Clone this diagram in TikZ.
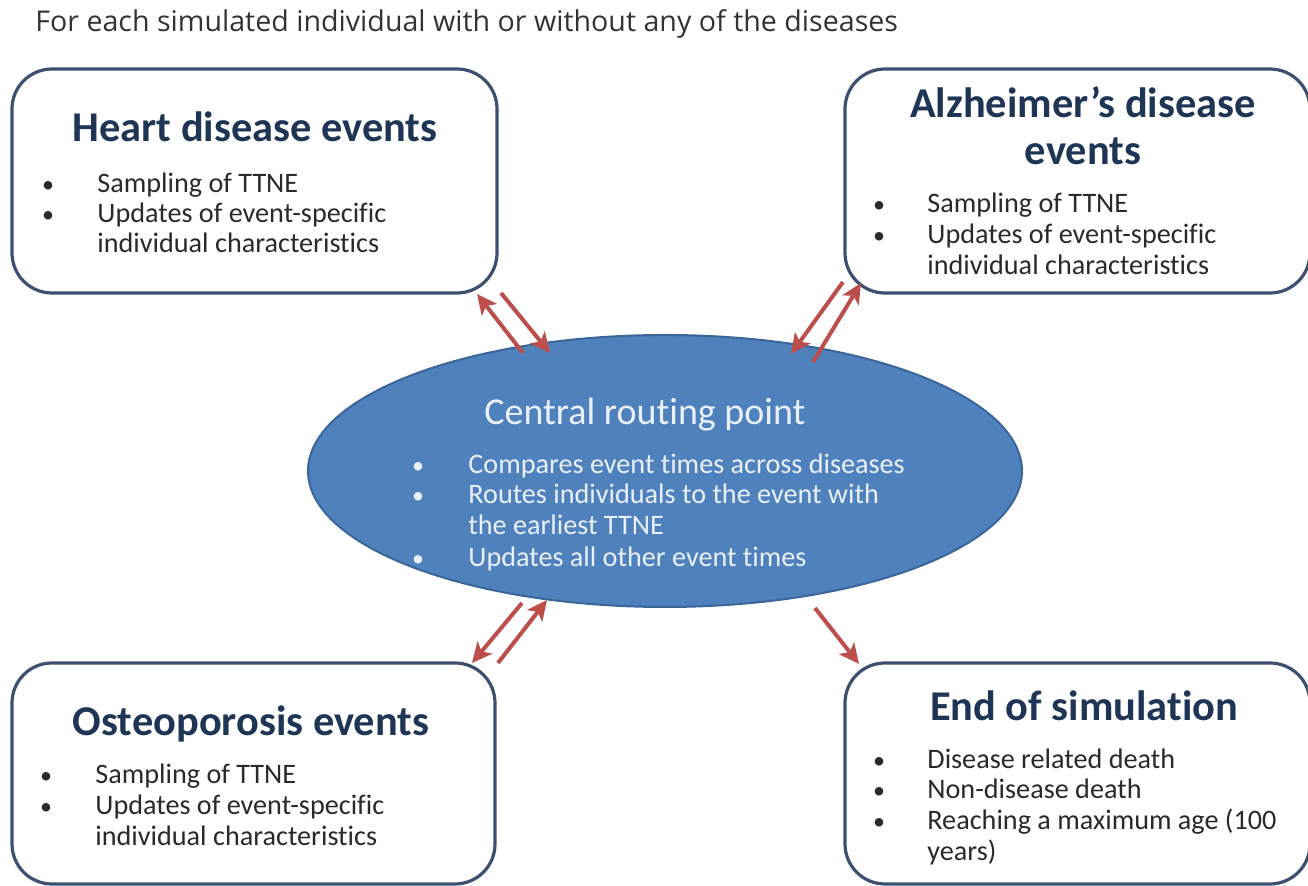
\documentclass[tikz,border=0pt]{standalone}
\usepackage{fontspec}
\setmainfont{Carlito}[Ligatures=NoCommon]
\newfontfamily\titlefont{Open Sans}
\usetikzlibrary{arrows.meta}
\definecolor{boxline}{HTML}{3E5070}
\definecolor{headc}{HTML}{1F3556}
\definecolor{bodyc}{HTML}{2A2A2A}
\definecolor{titlec}{HTML}{333333}
\definecolor{ellfill}{HTML}{4F81BD}
\definecolor{elldraw}{HTML}{3B6699}
\definecolor{elltext}{HTML}{E9F0FA}
\definecolor{arrc}{HTML}{BC4F4C}
\begin{document}
\begin{tikzpicture}[x=0.5pt,y=-0.5pt,
  evbox/.style={draw=boxline,line width=1.6pt,rounded corners=20pt,fill=white},
  head/.style={inner sep=0pt,anchor=base,text=headc,font=\fontsize{21.2}{24}\selectfont\bfseries},
  btxt/.style={inner sep=0pt,anchor=base west,text=bodyc,font=\fontsize{14.1}{16}\selectfont},
  bdot/.style={inner sep=0pt,anchor=base,text=bodyc,font=\fontsize{12}{14}\selectfont},
  etxt/.style={inner sep=0pt,anchor=base west,text=elltext,font=\fontsize{14.1}{16}\selectfont},
  edot/.style={inner sep=0pt,anchor=base,text=elltext,font=\fontsize{12}{14}\selectfont},
  arr/.style={draw=arrc,line width=2pt,-{Stealth[length=10pt,width=9.5pt,inset=2.5pt]}}]
\useasboundingbox (0,0) rectangle (1308,886);
% title
\node[inner sep=0pt,anchor=base west,text=titlec,font=\titlefont\fontsize{14.3}{16}\selectfont] (title) at (35,32) {For each simulated individual with or without any of the diseases};
% boxes
\draw[evbox] (12,69) rectangle (497,293);
\draw[evbox] (845,69) rectangle (1310,293);
\draw[evbox] (12,663) rectangle (495,884);
\draw[evbox] (845,663) rectangle (1310,884);
% ellipse
\draw[fill=ellfill,draw=elldraw,line width=1pt] (665,471) ellipse [x radius=357,y radius=136];
% heart text
\node[head] (h1) at (255,142) {Heart disease events};
\node[bdot] (hb1) at (48,193) {•};
\node[btxt] (ht1) at (97,193) {Sampling of TTNE};
\node[bdot] (hb2) at (48,223) {•};
\node[btxt] (ht2) at (97,223) {Updates of event-specific};
\node[btxt] (ht3) at (97,253) {individual characteristics};
% alzheimer text
\node[head] (a1) at (1083,118) {Alzheimer’s disease};
\node[head] (a2) at (1083,165) {events};
\node[bdot] (ab1) at (879,213) {•};
\node[btxt] (at1) at (927,213) {Sampling of TTNE};
\node[bdot] (ab2) at (879,244) {•};
\node[btxt] (at2) at (927,244) {Updates of event-specific};
\node[btxt] (at3) at (927,275) {individual characteristics};
% osteoporosis text
\node[head] (o1) at (251,736) {Osteoporosis events};
\node[bdot] (ob1) at (46,784) {•};
\node[btxt] (ot1) at (95,784) {Sampling of TTNE};
\node[bdot] (ob2) at (46,815) {•};
\node[btxt] (ot2) at (95,815) {Updates of event-specific};
\node[btxt] (ot3) at (95,846) {individual characteristics};
% end text
\node[head] (e1) at (1084,721) {End of simulation};
\node[bdot] (eb1) at (879,769) {•};
\node[btxt] (et1) at (927,769) {Disease related death};
\node[bdot] (eb2) at (879,799) {•};
\node[btxt] (et2) at (927,799) {Non-disease death};
\node[bdot] (eb3) at (879,830) {•};
\node[btxt] (et3) at (927,830) {Reaching a maximum age (100};
\node[btxt] (et4) at (927,861) {years)};
% central text
\node[inner sep=0pt,anchor=base,text=elltext,font=\fontsize{19}{22}\selectfont] (c1) at (645,425) {Central routing point};
\node[edot] (cb1) at (418,474) {•};
\node[etxt] (ct1) at (468,474) {Compares event times across diseases};
\node[edot] (cb2) at (418,504) {•};
\node[etxt] (ct2) at (468,504) {Routes individuals to the event with};
\node[etxt] (ct3) at (468,535) {the earliest TTNE};
\node[edot] (cb3) at (418,567) {•};
\node[etxt] (ct4) at (468,567) {Updates all other event times};
% arrow endpoints
\coordinate (hA) at (523,353); \coordinate (hB) at (477,294);
\coordinate (hC) at (501,293); \coordinate (hD) at (550,353);
\coordinate (aA) at (843,282); \coordinate (aB) at (791,354);
\coordinate (aC) at (813,362); \coordinate (aD) at (861,283);
\coordinate (oA) at (522,603); \coordinate (oB) at (472,663);
\coordinate (oC) at (498,663); \coordinate (oD) at (547,600);
\coordinate (eA) at (815,608); \coordinate (eB) at (859,664);
\draw[arr] (hA) -- (hB);
\draw[arr] (hC) -- (hD);
\draw[arr] (aA) -- (aB);
\draw[arr] (aC) -- (aD);
\draw[arr] (oA) -- (oB);
\draw[arr] (oC) -- (oD);
\draw[arr] (eA) -- (eB);
\end{tikzpicture}
\end{document}
